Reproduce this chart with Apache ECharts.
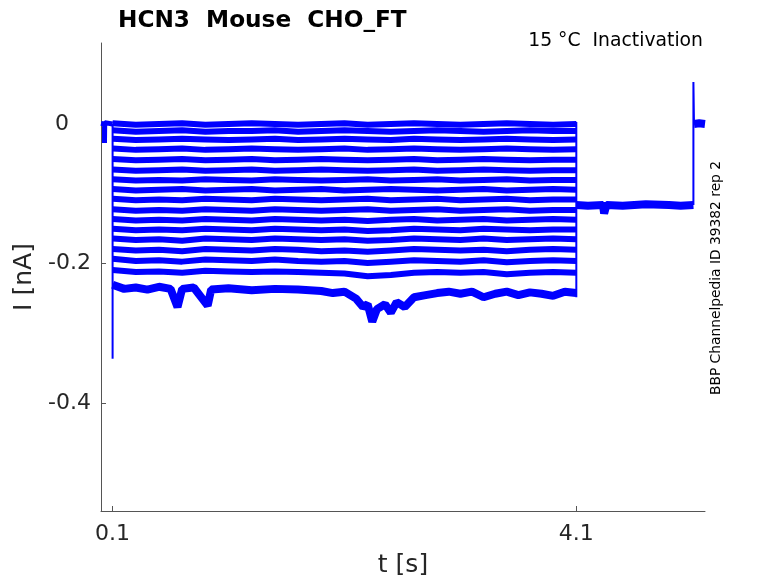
<!DOCTYPE html>
<html><head><meta charset="utf-8">
<script src="https://cdn.jsdelivr.net/npm/echarts@6/dist/echarts.min.js"></script>
<style>html,body{margin:0;padding:0;background:#fff}#c{width:778px;height:583px}</style>
</head><body><div id="c"></div>
<script>
// ---- tick labels ----
const xTicks = [0.1, 4.1];
const yTicks = [-0.4, -0.2, 0];

// ---- sampling times for the test-pulse traces (s) ----
const stepTimes = [0.1,0.3,0.5,0.7,0.9,1.1,1.3,1.5,1.7,1.9,2.1,2.3,2.5,2.7,2.9,3.1,3.3,3.5,3.7,3.9,4.1];

// ---- currents during test pulses (nA) ----
const trace01 = [0.001,-0.001,0.000,0.001,-0.001,0.000,0.001,0.000,-0.001,0.000,0.001,-0.001,0.000,0.001,0.000,-0.001,0.000,0.001,0.000,-0.001,0.000];
const trace02 = [-0.009,-0.011,-0.010,-0.009,-0.011,-0.010,-0.010,-0.009,-0.011,-0.010,-0.009,-0.010,-0.011,-0.010,-0.009,-0.010,-0.011,-0.010,-0.009,-0.010,-0.010];
const trace03 = [-0.021,-0.023,-0.022,-0.021,-0.022,-0.023,-0.022,-0.021,-0.023,-0.022,-0.021,-0.022,-0.023,-0.021,-0.022,-0.023,-0.022,-0.021,-0.022,-0.023,-0.022];
const trace04 = [-0.035,-0.037,-0.036,-0.035,-0.037,-0.036,-0.035,-0.036,-0.037,-0.036,-0.035,-0.037,-0.036,-0.035,-0.036,-0.037,-0.036,-0.035,-0.036,-0.037,-0.036];
const trace05 = [-0.050,-0.052,-0.051,-0.050,-0.052,-0.051,-0.050,-0.052,-0.051,-0.050,-0.051,-0.052,-0.051,-0.050,-0.052,-0.051,-0.050,-0.051,-0.052,-0.051,-0.051];
const trace06 = [-0.065,-0.067,-0.066,-0.065,-0.067,-0.066,-0.065,-0.067,-0.066,-0.065,-0.066,-0.067,-0.066,-0.065,-0.067,-0.066,-0.065,-0.066,-0.067,-0.066,-0.066];
const trace07 = [-0.079,-0.081,-0.080,-0.081,-0.079,-0.080,-0.081,-0.079,-0.080,-0.081,-0.080,-0.079,-0.081,-0.080,-0.079,-0.081,-0.080,-0.079,-0.081,-0.080,-0.080];
const trace08 = [-0.093,-0.095,-0.094,-0.093,-0.095,-0.094,-0.093,-0.095,-0.094,-0.093,-0.095,-0.094,-0.093,-0.094,-0.095,-0.094,-0.093,-0.095,-0.094,-0.093,-0.094];
const trace09 = [-0.107,-0.109,-0.108,-0.109,-0.107,-0.108,-0.109,-0.107,-0.108,-0.109,-0.108,-0.107,-0.109,-0.108,-0.107,-0.109,-0.108,-0.107,-0.109,-0.108,-0.108];
const trace10 = [-0.122,-0.124,-0.123,-0.124,-0.122,-0.123,-0.124,-0.122,-0.123,-0.124,-0.123,-0.122,-0.124,-0.123,-0.122,-0.124,-0.123,-0.122,-0.124,-0.123,-0.123];
const trace11 = [-0.136,-0.138,-0.137,-0.138,-0.136,-0.137,-0.138,-0.136,-0.137,-0.138,-0.137,-0.139,-0.137,-0.136,-0.138,-0.137,-0.136,-0.138,-0.137,-0.136,-0.137];
const trace12 = [-0.150,-0.152,-0.151,-0.152,-0.150,-0.151,-0.152,-0.150,-0.151,-0.152,-0.151,-0.153,-0.152,-0.150,-0.151,-0.152,-0.150,-0.151,-0.152,-0.151,-0.151];
const trace13 = [-0.164,-0.166,-0.165,-0.167,-0.164,-0.165,-0.166,-0.164,-0.165,-0.166,-0.165,-0.167,-0.166,-0.164,-0.165,-0.166,-0.164,-0.166,-0.165,-0.164,-0.165];
const trace14 = [-0.179,-0.181,-0.180,-0.182,-0.179,-0.180,-0.181,-0.179,-0.180,-0.182,-0.181,-0.183,-0.181,-0.179,-0.180,-0.181,-0.180,-0.182,-0.180,-0.179,-0.180];
const trace15 = [-0.193,-0.196,-0.195,-0.197,-0.194,-0.195,-0.196,-0.194,-0.196,-0.197,-0.196,-0.199,-0.197,-0.195,-0.196,-0.197,-0.195,-0.198,-0.196,-0.195,-0.196];
const trace16 = [-0.209,-0.212,-0.211,-0.213,-0.210,-0.211,-0.212,-0.211,-0.212,-0.213,-0.214,-0.218,-0.216,-0.213,-0.212,-0.213,-0.212,-0.215,-0.213,-0.212,-0.213];

// deepest trace, sampled more finely to keep its dips
const bottomTimes  = [0.1,0.2,0.3,0.4,0.5,0.6,0.66,0.7,0.8,0.92,0.95,1.1,1.3,1.5,1.7,1.9,2.0,2.1,2.2,2.26,2.3,2.34,2.38,2.45,2.5,2.55,2.62,2.7,2.8,2.9,3.0,3.1,3.2,3.3,3.4,3.5,3.6,3.7,3.8,3.9,4.0,4.1];
const bottomValues = [-0.230,-0.236,-0.234,-0.237,-0.233,-0.236,-0.262,-0.236,-0.234,-0.260,-0.237,-0.235,-0.238,-0.236,-0.237,-0.239,-0.242,-0.240,-0.250,-0.262,-0.258,-0.283,-0.265,-0.258,-0.270,-0.255,-0.262,-0.248,-0.245,-0.242,-0.240,-0.243,-0.240,-0.248,-0.243,-0.240,-0.245,-0.241,-0.243,-0.246,-0.240,-0.242];

// holding current before the pulse (incl. small artefact)
const preTimes  = [0, 0.03, 0.03, 0.032, 0.1];
const preValues = [0.001, 0.000, -0.027, 0.002, 0.000];
// capacitive transient at pulse onset
const onsetTimes  = [0.1, 0.1];
const onsetValues = [0.000, -0.336];
// vertical jump at pulse offset
const offsetTimes  = [4.1, 4.1];
const offsetValues = [0.003, -0.248];
// common tail after the pulse
const tailTimes  = [4.1, 4.2, 4.33, 4.34, 4.36, 4.5, 4.7, 4.9, 5.0, 5.11];
const tailValues = [-0.116, -0.117, -0.116, -0.128, -0.116, -0.117, -0.115, -0.116, -0.117, -0.116];
// return spike
const spikeTimes  = [5.11, 5.11, 5.115];
const spikeValues = [-0.116, 0.060, 0.000];
// final holding
const endTimes  = [5.115, 5.16, 5.21];
const endValues = [0.000, 0.001, 0.000];

const traces = [trace01,trace02,trace03,trace04,trace05,trace06,trace07,trace08,trace09,trace10,trace11,trace12,trace13,trace14,trace15,trace16];

function pairs(ts, vs) { return ts.map((t, i) => [t, vs[i]]); }

const BLUE = '#0000ff';
const TXT = '#262626';
const FONT = 'DejaVu Sans';

function lineSeries(data, width) {
  return { type: 'line', data: data, showSymbol: false, symbol: 'none',
           lineStyle: { color: BLUE, width: width }, itemStyle: { color: BLUE },
           silent: true, animation: false };
}

const series = [];
traces.forEach(tr => series.push(lineSeries(pairs(stepTimes, tr), 6)));
series.push(lineSeries(pairs(bottomTimes, bottomValues), 8));
series.push(lineSeries(pairs(preTimes, preValues), 5));
series.push(lineSeries(pairs(onsetTimes, onsetValues), 2));
series.push(lineSeries(pairs(offsetTimes, offsetValues), 2));
series.push(lineSeries(pairs(tailTimes, tailValues), 8));
series.push(lineSeries(pairs(spikeTimes, spikeValues), 2));
series.push(lineSeries(pairs(endTimes, endValues), 8));

const chart = echarts.init(document.getElementById('c'), null, { renderer: 'canvas' });
chart.setOption({
  animation: false,
  backgroundColor: '#fff',
  textStyle: { fontFamily: FONT },
  title: {
    text: 'HCN3  Mouse  CHO_FT', left: 113, top: 4,
    textStyle: { fontFamily: FONT, fontSize: 23.2, fontWeight: 'bold', color: '#000' }
  },
  grid: { left: 101, right: 73, top: 43, bottom: 71 },
  xAxis: {
    type: 'value', min: 0, max: 5.21,
    name: 't [s]', nameLocation: 'middle', nameGap: 42,
    nameTextStyle: { fontFamily: FONT, fontSize: 25, color: TXT },
    axisLine: { show: true, onZero: false, lineStyle: { color: '#555', width: 1 } },
    axisTick: { show: true, inside: true, length: 5, customValues: xTicks, lineStyle: { color: '#555' } },
    axisLabel: { customValues: xTicks, formatter: v => v.toFixed(1), fontFamily: FONT, fontSize: 22, color: TXT, margin: 12 },
    splitLine: { show: false }
  },
  yAxis: {
    type: 'value', min: -0.554, max: 0.116,
    name: 'I [nA]', nameLocation: 'middle', nameGap: 56, nameRotate: 90,
    nameTextStyle: { fontFamily: FONT, fontSize: 25, color: TXT },
    axisLine: { show: true, onZero: false, lineStyle: { color: '#555', width: 1 } },
    axisTick: { show: true, inside: true, length: 5, customValues: yTicks, lineStyle: { color: '#555' } },
    axisLabel: {
      customValues: yTicks,
      formatter: v => (Math.abs(v) < 1e-9 ? '{z|0}' : v.toFixed(1)),
      fontFamily: FONT, fontSize: 22, color: TXT, margin: 10,
      rich: { z: { fontFamily: FONT, fontSize: 22, color: TXT, padding: [0, 22, 0, 0] } }
    },
    splitLine: { show: false }
  },
  graphic: [
    { type: 'text', x: 703, y: 41, silent: true,
      style: { text: '15 °C  Inactivation', textAlign: 'right', textVerticalAlign: 'middle',
               font: '18.8px "DejaVu Sans"', fill: '#000' } },
    { type: 'text', x: 716, y: 278, rotation: Math.PI / 2, silent: true,
      style: { text: 'BBP Channelpedia ID 39382 rep 2', textAlign: 'center', textVerticalAlign: 'middle',
               font: '13.8px "DejaVu Sans"', fill: '#000' } }
  ],
  series: series
});
</script>
</body></html>
